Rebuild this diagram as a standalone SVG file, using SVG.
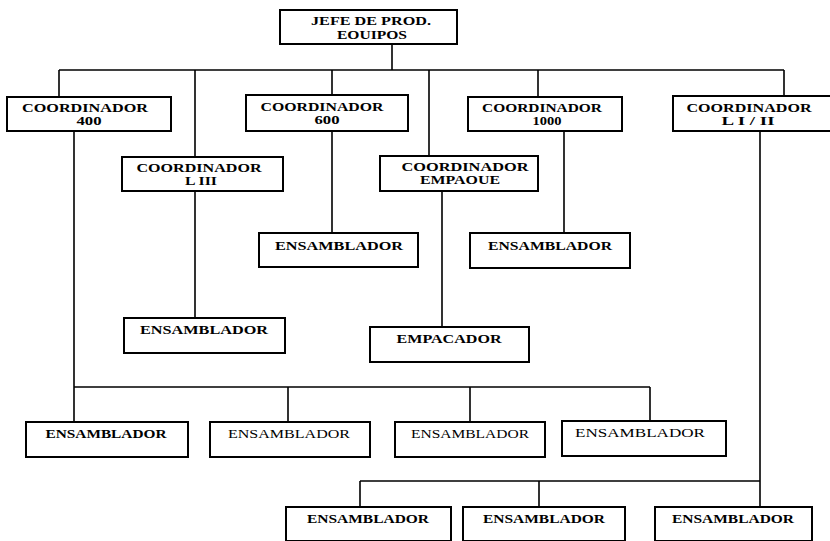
<svg xmlns="http://www.w3.org/2000/svg" width="830" height="541" viewBox="0 0 830 541">
<style>
.box{fill:#fff;stroke:#000;stroke-width:2}
.ln{stroke:#000;stroke-width:1.6;fill:none}
text{font-family:"Liberation Serif","Times New Roman",serif;font-size:12.5px;font-weight:bold;text-anchor:middle;fill:#000}
text.r{font-weight:normal}
</style>
<rect width="830" height="541" fill="#fff"/>
<g id="connectors">
<path class="ln" d="M392,44V70 M59,70H784 M59,70V97 M195,70V157 M332,70V95 M429,70V156 M538,70V97 M784,70V97"/>
<path class="ln" d="M74,131V422 M74,387H650 M288,387V422 M470,387V422 M650,387V422"/>
<path class="ln" d="M195,191V318 M332,131V233 M442,191V327 M564,131V233"/>
<path class="ln" d="M760,131V507 M360,481H760 M360,481V507 M539,481V507"/>
</g>
<g id="jefe"><rect class="box" x="280" y="10" width="177" height="34"/><text x="371" y="25" textLength="120" lengthAdjust="spacingAndGlyphs">JEFE DE PROD.</text><text x="372" y="39" textLength="70" lengthAdjust="spacingAndGlyphs">EOUIPOS</text></g>
<g id="c400"><rect class="box" x="7" y="97" width="164" height="34"/><text x="85" y="112" textLength="126" lengthAdjust="spacingAndGlyphs">COORDINADOR</text><text x="89" y="125" textLength="25" lengthAdjust="spacingAndGlyphs">400</text></g>
<g id="clIII"><rect class="box" x="122" y="157" width="161" height="34"/><text x="199" y="172" textLength="125" lengthAdjust="spacingAndGlyphs">COORDINADOR</text><text x="201" y="185" textLength="32" lengthAdjust="spacingAndGlyphs">L III</text></g>
<g id="c600"><rect class="box" x="246" y="95" width="162" height="36"/><text x="322" y="111" textLength="123" lengthAdjust="spacingAndGlyphs">COORDINADOR</text><text x="327" y="124" textLength="25" lengthAdjust="spacingAndGlyphs">600</text></g>
<g id="cemp"><rect class="box" x="380" y="156" width="158" height="35"/><text x="465" y="171" textLength="127" lengthAdjust="spacingAndGlyphs">COORDINADOR</text><text x="460" y="184" textLength="80" lengthAdjust="spacingAndGlyphs">EMPAOUE</text></g>
<g id="c1000"><rect class="box" x="468" y="97" width="154" height="34"/><text x="542" y="112" textLength="120" lengthAdjust="spacingAndGlyphs">COORDINADOR</text><text x="547" y="125" textLength="29" lengthAdjust="spacingAndGlyphs">1000</text></g>
<g id="cli"><rect class="box" x="673" y="96" width="160" height="35"/><text x="749" y="112" textLength="125" lengthAdjust="spacingAndGlyphs">COORDINADOR</text><text x="748" y="125" textLength="53" lengthAdjust="spacingAndGlyphs">L I / II</text></g>
<g id="e600"><rect class="box" x="259" y="233" width="159" height="34"/><text x="339" y="250" textLength="128" lengthAdjust="spacingAndGlyphs">ENSAMBLADOR</text></g>
<g id="e1000"><rect class="box" x="470" y="233" width="160" height="35"/><text x="550" y="250" textLength="124" lengthAdjust="spacingAndGlyphs">ENSAMBLADOR</text></g>
<g id="elIII"><rect class="box" x="124" y="318" width="161" height="35"/><text x="204" y="334" textLength="128" lengthAdjust="spacingAndGlyphs">ENSAMBLADOR</text></g>
<g id="empac"><rect class="box" x="370" y="327" width="159" height="35"/><text x="449" y="343" textLength="105" lengthAdjust="spacingAndGlyphs">EMPACADOR</text></g>
<g id="r1a"><rect class="box" x="26" y="422" width="162" height="35"/><text x="106" y="438" textLength="121" lengthAdjust="spacingAndGlyphs">ENSAMBLADOR</text></g>
<g id="r1b"><rect class="box" x="210" y="422" width="160" height="35"/><text class="r" x="289" y="438" textLength="122" lengthAdjust="spacingAndGlyphs">ENSAMBLADOR</text></g>
<g id="r1c"><rect class="box" x="395" y="422" width="150" height="35"/><text class="r" x="470" y="438" textLength="118" lengthAdjust="spacingAndGlyphs">ENSAMBLADOR</text></g>
<g id="r1d"><rect class="box" x="562" y="421" width="164" height="35"/><text class="r" x="640" y="437" textLength="130" lengthAdjust="spacingAndGlyphs">ENSAMBLADOR</text></g>
<g id="r2a"><rect class="box" x="286" y="507" width="165" height="34"/><text x="368" y="523" textLength="122" lengthAdjust="spacingAndGlyphs">ENSAMBLADOR</text></g>
<g id="r2b"><rect class="box" x="463" y="507" width="162" height="34"/><text x="544" y="523" textLength="122" lengthAdjust="spacingAndGlyphs">ENSAMBLADOR</text></g>
<g id="r2c"><rect class="box" x="655" y="507" width="157" height="34"/><text x="733" y="523" textLength="122" lengthAdjust="spacingAndGlyphs">ENSAMBLADOR</text></g>
</svg>
